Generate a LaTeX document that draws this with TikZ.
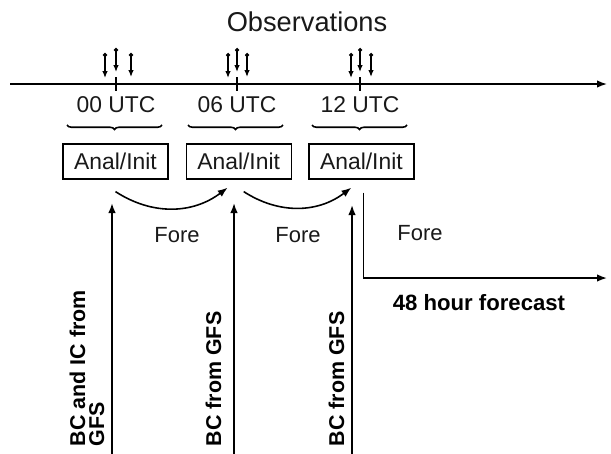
\documentclass[tikz,border=0pt]{standalone}
\usepackage{fontspec}
\setmainfont{Liberation Sans}
\usetikzlibrary{arrows.meta,decorations.pathreplacing,calc,positioning}
\definecolor{textColor}{RGB}{25,25,25}
\tikzset{titlelabel/.style={font=\fontsize{15.5}{18}\selectfont, text=textColor, inner sep=0pt}}
\tikzset{timelabel/.style={font=\fontsize{13}{15}\selectfont, text=textColor, inner sep=0pt}}
\tikzset{initbox/.style={draw, line width=0.7pt, minimum width=2.1cm, minimum height=0.7cm, inner sep=0pt, font=\fontsize{13}{15}\selectfont, text=textColor}}
\tikzset{forelabel/.style={font=\fontsize{12.5}{15}\selectfont, text=textColor, inner sep=0pt}}
\tikzset{gfslabel/.style={rotate=90, anchor=south west, align=left, inner sep=0pt, font=\bfseries\fontsize{12.2}{10.8}\selectfont}}
\tikzset{brace/.style={decorate, decoration={brace, mirror, amplitude=0.09cm}, line width=0.9pt}}
\tikzstyle{arrow} = [-{Latex[length=2mm,width=1.5mm]}]
\tikzstyle{obsarrow} = [{Circle[length=0.8mm]}-{Latex[length=1.4mm,width=1.1mm]}, line width=0.7pt]

\begin{document}
\begin{tikzpicture}[x=0.02cm, y=-0.02cm, line width=0.9pt]
	\useasboundingbox (0,0) rectangle (611,453);
	% Timeline
	\coordinate (tstart) at (10,84);
	\coordinate (tend) at (607,84);
	\coordinate (t00) at (116,84);
	\coordinate (t06) at (237,84);
	\coordinate (t12) at (360,84);
	\node (obs) [titlelabel] at (307,22) {Observations};
	\draw [arrow] (tstart) -- (tend);
	\draw (t00) ++(0,-7) -- ++(0,14);
	\draw (t06) ++(0,-7) -- ++(0,14);
	\draw (t12) ++(0,-7) -- ++(0,14);

	% Observations
	\draw [obsarrow] ($(t00)+(-11,-31)$) -- ($(t00)+(-11,-6)$);
	\draw [obsarrow] ($(t00)+(0,-36)$) -- ($(t00)+(0,-12)$);
	\draw [obsarrow] ($(t00)+(15,-31)$) -- ($(t00)+(15,-7)$);
	\draw [obsarrow] ($(t06)+(-9,-31)$) -- ($(t06)+(-9,-6)$);
	\draw [obsarrow] ($(t06)+(0,-36)$) -- ($(t06)+(0,-12)$);
	\draw [obsarrow] ($(t06)+(10,-31)$) -- ($(t06)+(10,-7)$);
	\draw [obsarrow] ($(t12)+(-9,-31)$) -- ($(t12)+(-9,-6)$);
	\draw [obsarrow] ($(t12)+(0,-36)$) -- ($(t12)+(0,-12)$);
	\draw [obsarrow] ($(t12)+(11,-31)$) -- ($(t12)+(11,-7)$);

	% Cycle times
	\node (utc00) [timelabel] at (116,105) {00 UTC};
	\node (utc06) [timelabel] at (237,105) {06 UTC};
	\node (utc12) [timelabel] at (360,105) {12 UTC};
	\draw [brace] ($(t00)+(-49,41)$) -- ($(t00)+(46,41)$);
	\draw [brace] ($(t06)+(-49,41)$) -- ($(t06)+(46,41)$);
	\draw [brace] ($(t12)+(-48,41)$) -- ($(t12)+(47,41)$);

	% Analysis boxes
	\node (init00) [initbox] at (115.5,161.5) {Anal/Init};
	\node (init06) [initbox, right=0.34cm of init00] {Anal/Init};
	\node (init12) [initbox, right=0.33cm of init06] {Anal/Init};

	% Forecasts
	\node (fore1) [forelabel] at (177,235) {Fore};
	\node (fore2) [forelabel] at (298,235) {Fore};
	\node (fore3) [forelabel] at (420,233) {Fore};
	\draw [arrow] ($(init00.south)+(0,12)$) to[bend right=35] ($(init06.south)+(-11,8)$);
	\draw [arrow] ($(init06.south)+(5,12)$) to[bend right=35] ($(init12.south)+(-10,8)$);
	\coordinate (fcstart) at ($(init12.south)+(2,13)$);
	\coordinate (fcend) at (607,278);
	\draw [arrow] (fcstart) |- (fcend);
	\node (forecast) [font=\bfseries\fontsize{12.6}{15}\selectfont, inner sep=0pt] at (479,303) {48 hour forecast};

	% Boundary conditions
	\coordinate (bc00bot) at (112,455);
	\coordinate (bc00top) at (112,203);
	\coordinate (bc06bot) at (234,455);
	\coordinate (bc06top) at (234,203);
	\coordinate (bc12bot) at (352,455);
	\coordinate (bc12top) at (352,205);
	\draw [arrow] (bc00bot) -- (bc00top);
	\draw [arrow] (bc06bot) -- (bc06top);
	\draw [arrow] (bc12bot) -- (bc12top);
	\node (bc00) [gfslabel] at (105,447) {BC and IC from\\GFS};
	\node (bc06) [gfslabel] at (222,447) {BC from GFS};
	\node (bc12) [gfslabel] at (345,447) {BC from GFS};
\end{tikzpicture}
\end{document}
